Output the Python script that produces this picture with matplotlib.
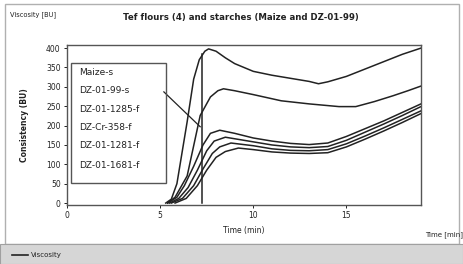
import matplotlib.pyplot as plt
from matplotlib.patches import Rectangle

# Brabender viscosity curves (time in min, viscosity in BU)
maize_t = [5.3, 5.6, 5.9, 6.45, 6.8, 7.1, 7.4, 7.6, 8.0, 8.5, 9.0, 10.0, 11.0, 12.0, 13.0, 13.5, 14.0, 15.0, 16.0, 17.0, 18.0, 19.0]
maize_v = [0, 10, 50, 210, 320, 370, 392, 398, 392, 375, 360, 340, 330, 322, 314, 308, 313, 327, 346, 365, 384, 400]

dz99_t = [5.4, 5.8, 6.45, 7.15, 7.7, 8.1, 8.4, 9.0, 10.0, 11.5, 13.0, 14.6, 15.5, 16.5, 17.5, 18.3, 19.0]
dz99_v = [0, 15, 70, 226, 274, 290, 295, 290, 280, 264, 256, 249, 249, 262, 277, 290, 302]

dz1285_t = [5.4, 5.9, 6.3, 6.8, 7.3, 7.7, 8.2, 9.0, 10.0, 11.0, 12.0, 13.0, 14.0, 15.0, 16.0, 17.0, 18.0, 19.0]
dz1285_v = [0, 15, 45, 95, 150, 180, 188, 180, 168, 160, 154, 151, 155, 172, 192, 212, 234, 256]

dzcr358_t = [5.5, 6.0, 6.5, 7.0, 7.5, 7.9, 8.5, 9.5, 11.0, 12.0, 13.0, 14.0, 15.0, 16.0, 17.0, 18.0, 19.0]
dzcr358_v = [0, 12, 40, 85, 135, 160, 170, 162, 150, 145, 143, 146, 162, 183, 204, 226, 249]

dz1281_t = [5.6, 6.2, 6.8, 7.3, 7.8, 8.2, 8.8, 10.0, 11.0, 12.0, 13.0, 14.0, 15.0, 16.0, 17.0, 18.0, 19.0]
dz1281_v = [0, 12, 45, 88, 128, 145, 155, 148, 140, 136, 135, 138, 153, 173, 194, 216, 238]

dz1681_t = [5.8, 6.4, 7.0, 7.5, 8.0, 8.5, 9.2, 10.0, 11.0, 12.0, 13.0, 14.0, 15.0, 16.0, 17.0, 18.0, 19.0]
dz1681_v = [0, 12, 45, 85, 118, 133, 142, 138, 132, 129, 128, 130, 145, 165, 186, 208, 231]

sample_names = ["Maize-s", "DZ-01-99-s", "DZ-01-1285-f", "DZ-Cr-358-f", "DZ-01-1281-f", "DZ-01-1681-f"]
x_ticks = [0, 5, 10, 15]
y_ticks = [0, 50, 100, 150, 200, 250, 300, 350, 400]

cursor_t = 7.25
pointer_t = [5.2, 7.15]
pointer_v = [287, 197]

ink = "#222222"

fig = plt.figure(figsize=(4.63, 2.64), dpi=100)
fig.patch.set_facecolor("white")

# outer window frame and grey legend strip at the bottom
fig.add_artist(Rectangle((0.011, 0.075), 0.98, 0.91, transform=fig.transFigure,
                         fill=False, edgecolor="#b0b0b0", lw=1.0))
fig.add_artist(Rectangle((0.0, 0.0), 1.0, 0.075, transform=fig.transFigure,
                         facecolor="#d6d6d6", edgecolor="#a0a0a0", lw=0.8))
fig.add_artist(plt.Line2D([0.025, 0.06], [0.035, 0.035], transform=fig.transFigure,
                          color=ink, lw=1.2))
fig.text(0.066, 0.035, "Viscosity", fontsize=5, va="center", color=ink)

ax = fig.add_axes([0.1447, 0.2235, 0.7645, 0.606])

for t, v in [(maize_t, maize_v), (dz99_t, dz99_v), (dz1285_t, dz1285_v),
             (dzcr358_t, dzcr358_v), (dz1281_t, dz1281_v), (dz1681_t, dz1681_v)]:
    ax.plot(t, v, color=ink, lw=1.1)

ax.plot([cursor_t, cursor_t], [0, 385], color=ink, lw=1.1)
ax.plot(pointer_t, pointer_v, color=ink, lw=0.9)

ax.set_xlim(0, 19)
ax.set_ylim(-5, 408)
ax.set_xticks(x_ticks)
ax.set_yticks(y_ticks)
ax.tick_params(labelsize=5.5, length=2.5, width=0.7, colors=ink, pad=2)
for s in ax.spines.values():
    s.set_color("#555555")
    s.set_linewidth(1.0)

ax.set_xlabel("Time (min)", fontsize=5.5, color=ink, labelpad=4)
ax.set_ylabel("Consistency (BU)", fontsize=5.5, color=ink, fontweight="bold", labelpad=12)

# boxed list of samples
ax.add_patch(Rectangle((0.2, 52), 5.1, 310, fill=False, edgecolor="#555555", lw=1.0, zorder=3))
name_v = [338, 290, 241, 195, 149, 98]
for name, v in zip(sample_names, name_v):
    ax.text(0.65, v, name, fontsize=6.5, va="center", color=ink)

fig.text(0.52, 0.935, "Tef flours (4) and starches (Maize and DZ-01-99)",
         ha="center", va="center", fontsize=6.2, fontweight="bold", color=ink)
fig.text(0.022, 0.945, "Viscosity [BU]", fontsize=4.8, va="center", color=ink)
fig.text(0.96, 0.11, "Time [min]", fontsize=5, ha="center", va="center", color=ink)

fig.savefig("out.png", dpi=100)
